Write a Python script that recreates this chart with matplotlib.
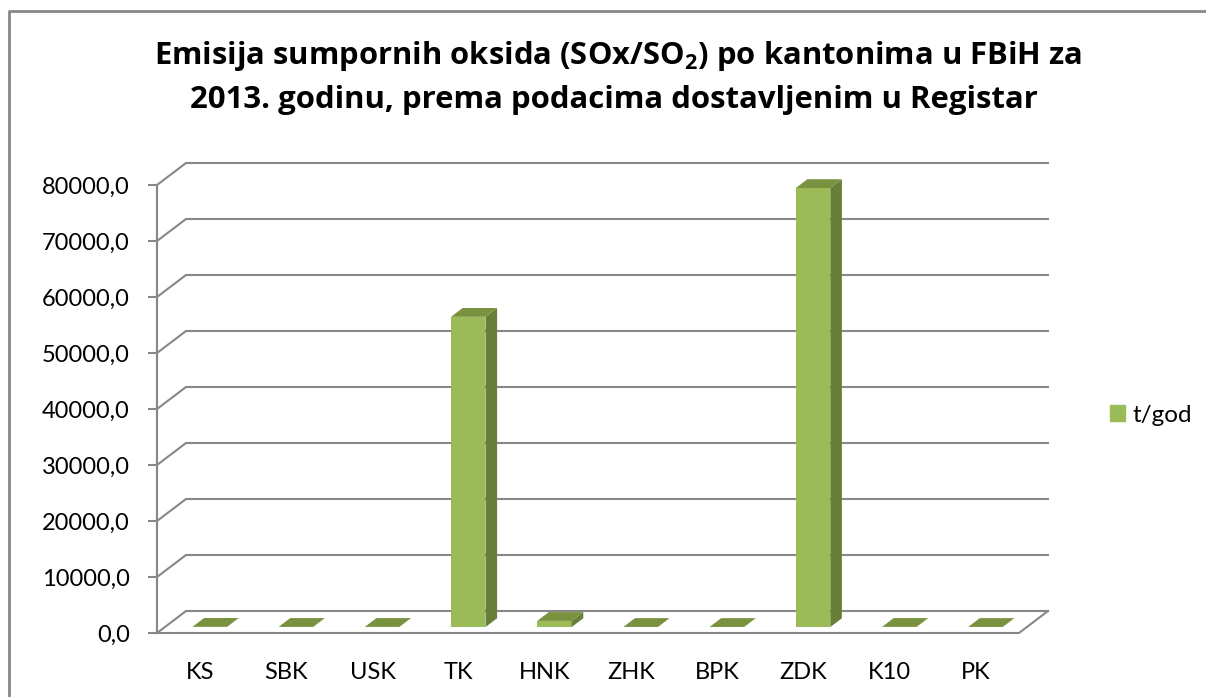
import matplotlib
matplotlib.use('Agg')
import matplotlib.pyplot as plt
from matplotlib.patches import Polygon, Patch
from matplotlib.lines import Line2D
import numpy as np

# data (t/god)
cantons = ['KS', 'SBK', 'USK', 'TK', 'HNK', 'ZHK', 'BPK', 'ZDK', 'K10', 'PK']
emissions = [40, 30, 30, 55400, 1100, 20, 20, 78400, 30, 20]
y_ticks = np.arange(0, 80001, 10000)
series_name = 't/god'
title_1 = r'Emisija sumpornih oksida (SOx/SO$_{\mathbf{2}}$) po kantonima u FBiH za'
title_2 = '2013. godinu, prema podacima dostavljenim u Registar'

plt.rcParams['font.family'] = ['Lato', 'DejaVu Sans']
plt.rcParams['mathtext.fontset'] = 'custom'
plt.rcParams['mathtext.bf'] = 'Open Sans:bold'
plt.rcParams['mathtext.rm'] = 'Open Sans:bold'

front_c = '#9BBB59'
side_c = '#687F39'
top_c = '#78923F'
grid_c = '#878787'

W, H = 1206, 697
fig = plt.figure(figsize=(W / 100, H / 100), dpi=100)
ax = fig.add_axes([157 / W, 64 / H, 862 / W, 448 / H])
ax.set_xlim(0, len(cantons))
ax.set_ylim(0, 80000)

# 3d depth of the walls, in data units
DX = 29 / 86.2
DY = 22 / 448 * 80000
f0, f1 = 0.27, 0.67   # bar front / back depth fraction
bw = 0.40

# back wall gridlines + slanted side wall lines
for v in y_ticks:
    ax.add_line(Line2D([0, DX, len(cantons) + DX], [v, v + DY, v + DY],
                       color=grid_c, lw=1.5, clip_on=False, zorder=1))
# floor
ax.add_line(Line2D([0, len(cantons), len(cantons) + DX], [0, 0, DY],
                   color=grid_c, lw=1.5, clip_on=False, zorder=1))

# bars
for i, v in enumerate(emissions):
    x0 = i + 0.52 - bw / 2
    x1 = x0 + bw
    ax0, ay0 = f0 * DX, f0 * DY
    bx0, by0 = f1 * DX, f1 * DY
    front = [(x0 + ax0, ay0), (x1 + ax0, ay0), (x1 + ax0, v + ay0), (x0 + ax0, v + ay0)]
    side = [(x1 + ax0, ay0), (x1 + bx0, by0), (x1 + bx0, v + by0), (x1 + ax0, v + ay0)]
    top = [(x0 + ax0, v + ay0), (x1 + ax0, v + ay0), (x1 + bx0, v + by0), (x0 + bx0, v + by0)]
    for pts, c in [(front, front_c), (side, side_c), (top, top_c)]:
        ax.add_patch(Polygon(pts, closed=True, facecolor=c, edgecolor='none',
                             clip_on=False, zorder=3))

# axes styling
for s in ['top', 'right', 'bottom']:
    ax.spines[s].set_visible(False)
ax.spines['left'].set_color(grid_c)
ax.spines['left'].set_linewidth(1.5)
ax.set_yticks(y_ticks)
ax.set_yticklabels([f'{v:.1f}'.replace('.', ',') for v in y_ticks], fontsize=17)
ax.tick_params(axis='y', length=6.5, width=1.5, color=grid_c, pad=13)
ax.set_xticks(np.arange(len(cantons)) + 0.5)
ax.set_xticklabels(cantons, fontsize=17)
ax.tick_params(axis='x', length=0, pad=21)

# legend
fig.legend(handles=[Patch(color=front_c)], labels=[series_name],
           loc='center left', bbox_to_anchor=(1110 / W, 1 - 415 / H),
           frameon=False, fontsize=17.5, handlelength=0.62, handleheight=0.62,
           handletextpad=0.3, borderpad=0, borderaxespad=0)

# title, sized so line widths match the original
t1 = fig.text(618 / W, 1 - 64 / H, title_1, ha='center', va='baseline',
              fontsize=20, fontweight='bold', family='Open Sans')
t2 = fig.text(614 / W, 1 - 108 / H, title_2, ha='center', va='baseline',
              fontsize=20, fontweight='bold', family='Open Sans')
r = fig.canvas.get_renderer()
for t, target in [(t1, 927), (t2, 847)]:
    wpx = t.get_window_extent(r).width
    t.set_fontsize(20 * target / wpx)

# chart frame
fig.add_artist(Line2D([9 / W, 9 / W, 1.0], [0, 1 - 11 / H, 1 - 11 / H],
                      transform=fig.transFigure, color=grid_c, lw=2))

fig.savefig('out.png', dpi=100)
